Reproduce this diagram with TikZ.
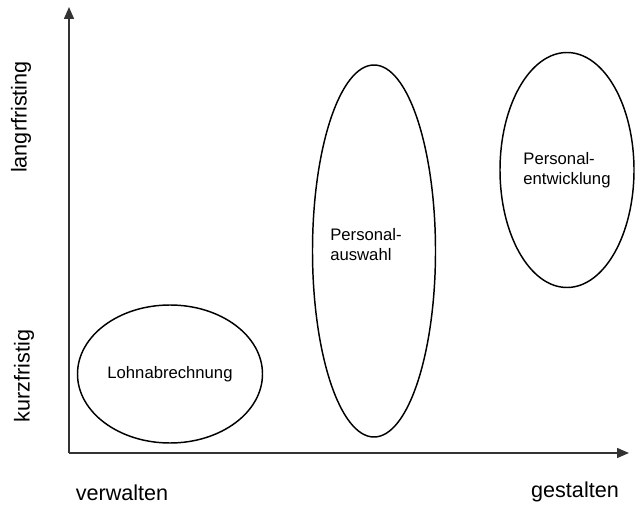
\documentclass[tikz,border=0pt]{standalone}
\usepackage{fontspec}
\setmainfont{Liberation Sans}
\usepackage{tikz}
\usetikzlibrary{shapes.geometric,arrows.meta}

\begin{document}
\begin{tikzpicture}[x=0.75pt,y=-0.75pt,
        axis/.style={line width=1.1pt, draw=black!80, -{Triangle[length=9pt,width=7.5pt]}},
        field/.style={draw, ellipse, line width=1.1pt, inner sep=0pt, align=left,
                      font=\fontsize{12.5}{15}\selectfont},
        fieldtext/.style={align=left, inner sep=0pt, font=\fontsize{12.5}{15}\selectfont},
        axislabel/.style={font=\fontsize{16.2}{19}\selectfont}]
        \useasboundingbox (0,0) rectangle (636,506);

        % Axes
        \coordinate (origin) at (69,453);
        \coordinate (ytip) at (69,7);
        \coordinate (xtip) at (629,453);
        \draw[axis] (origin) -- (ytip);
        \draw[axis] (origin) -- (xtip);

        % Axis labels
        \node[axislabel, rotate=90] (lang) at (21,117) {langrfristing};
        \node[axislabel, rotate=90] (kurz) at (24,376) {kurzfristig};
        \node[axislabel] (verw) at (122,493) {verwalten};
        \node[axislabel] (gest) at (575,492) {gestalten};

        % Fields
        \node[field, minimum width=185pt*0.75, minimum height=138pt*0.75] (lohn) at (170,374) {Lohnabrechnung};
        \node[field, minimum width=123pt*0.75, minimum height=372pt*0.75] (auswahl) at (374,251) {};
        \node[fieldtext] (auswahltext) at (366,245) {Personal-\\auswahl};
        \node[field, minimum width=134pt*0.75, minimum height=235pt*0.75] (entw) at (567,170) {Personal-\\entwicklung};
    \end{tikzpicture}
\end{document}
